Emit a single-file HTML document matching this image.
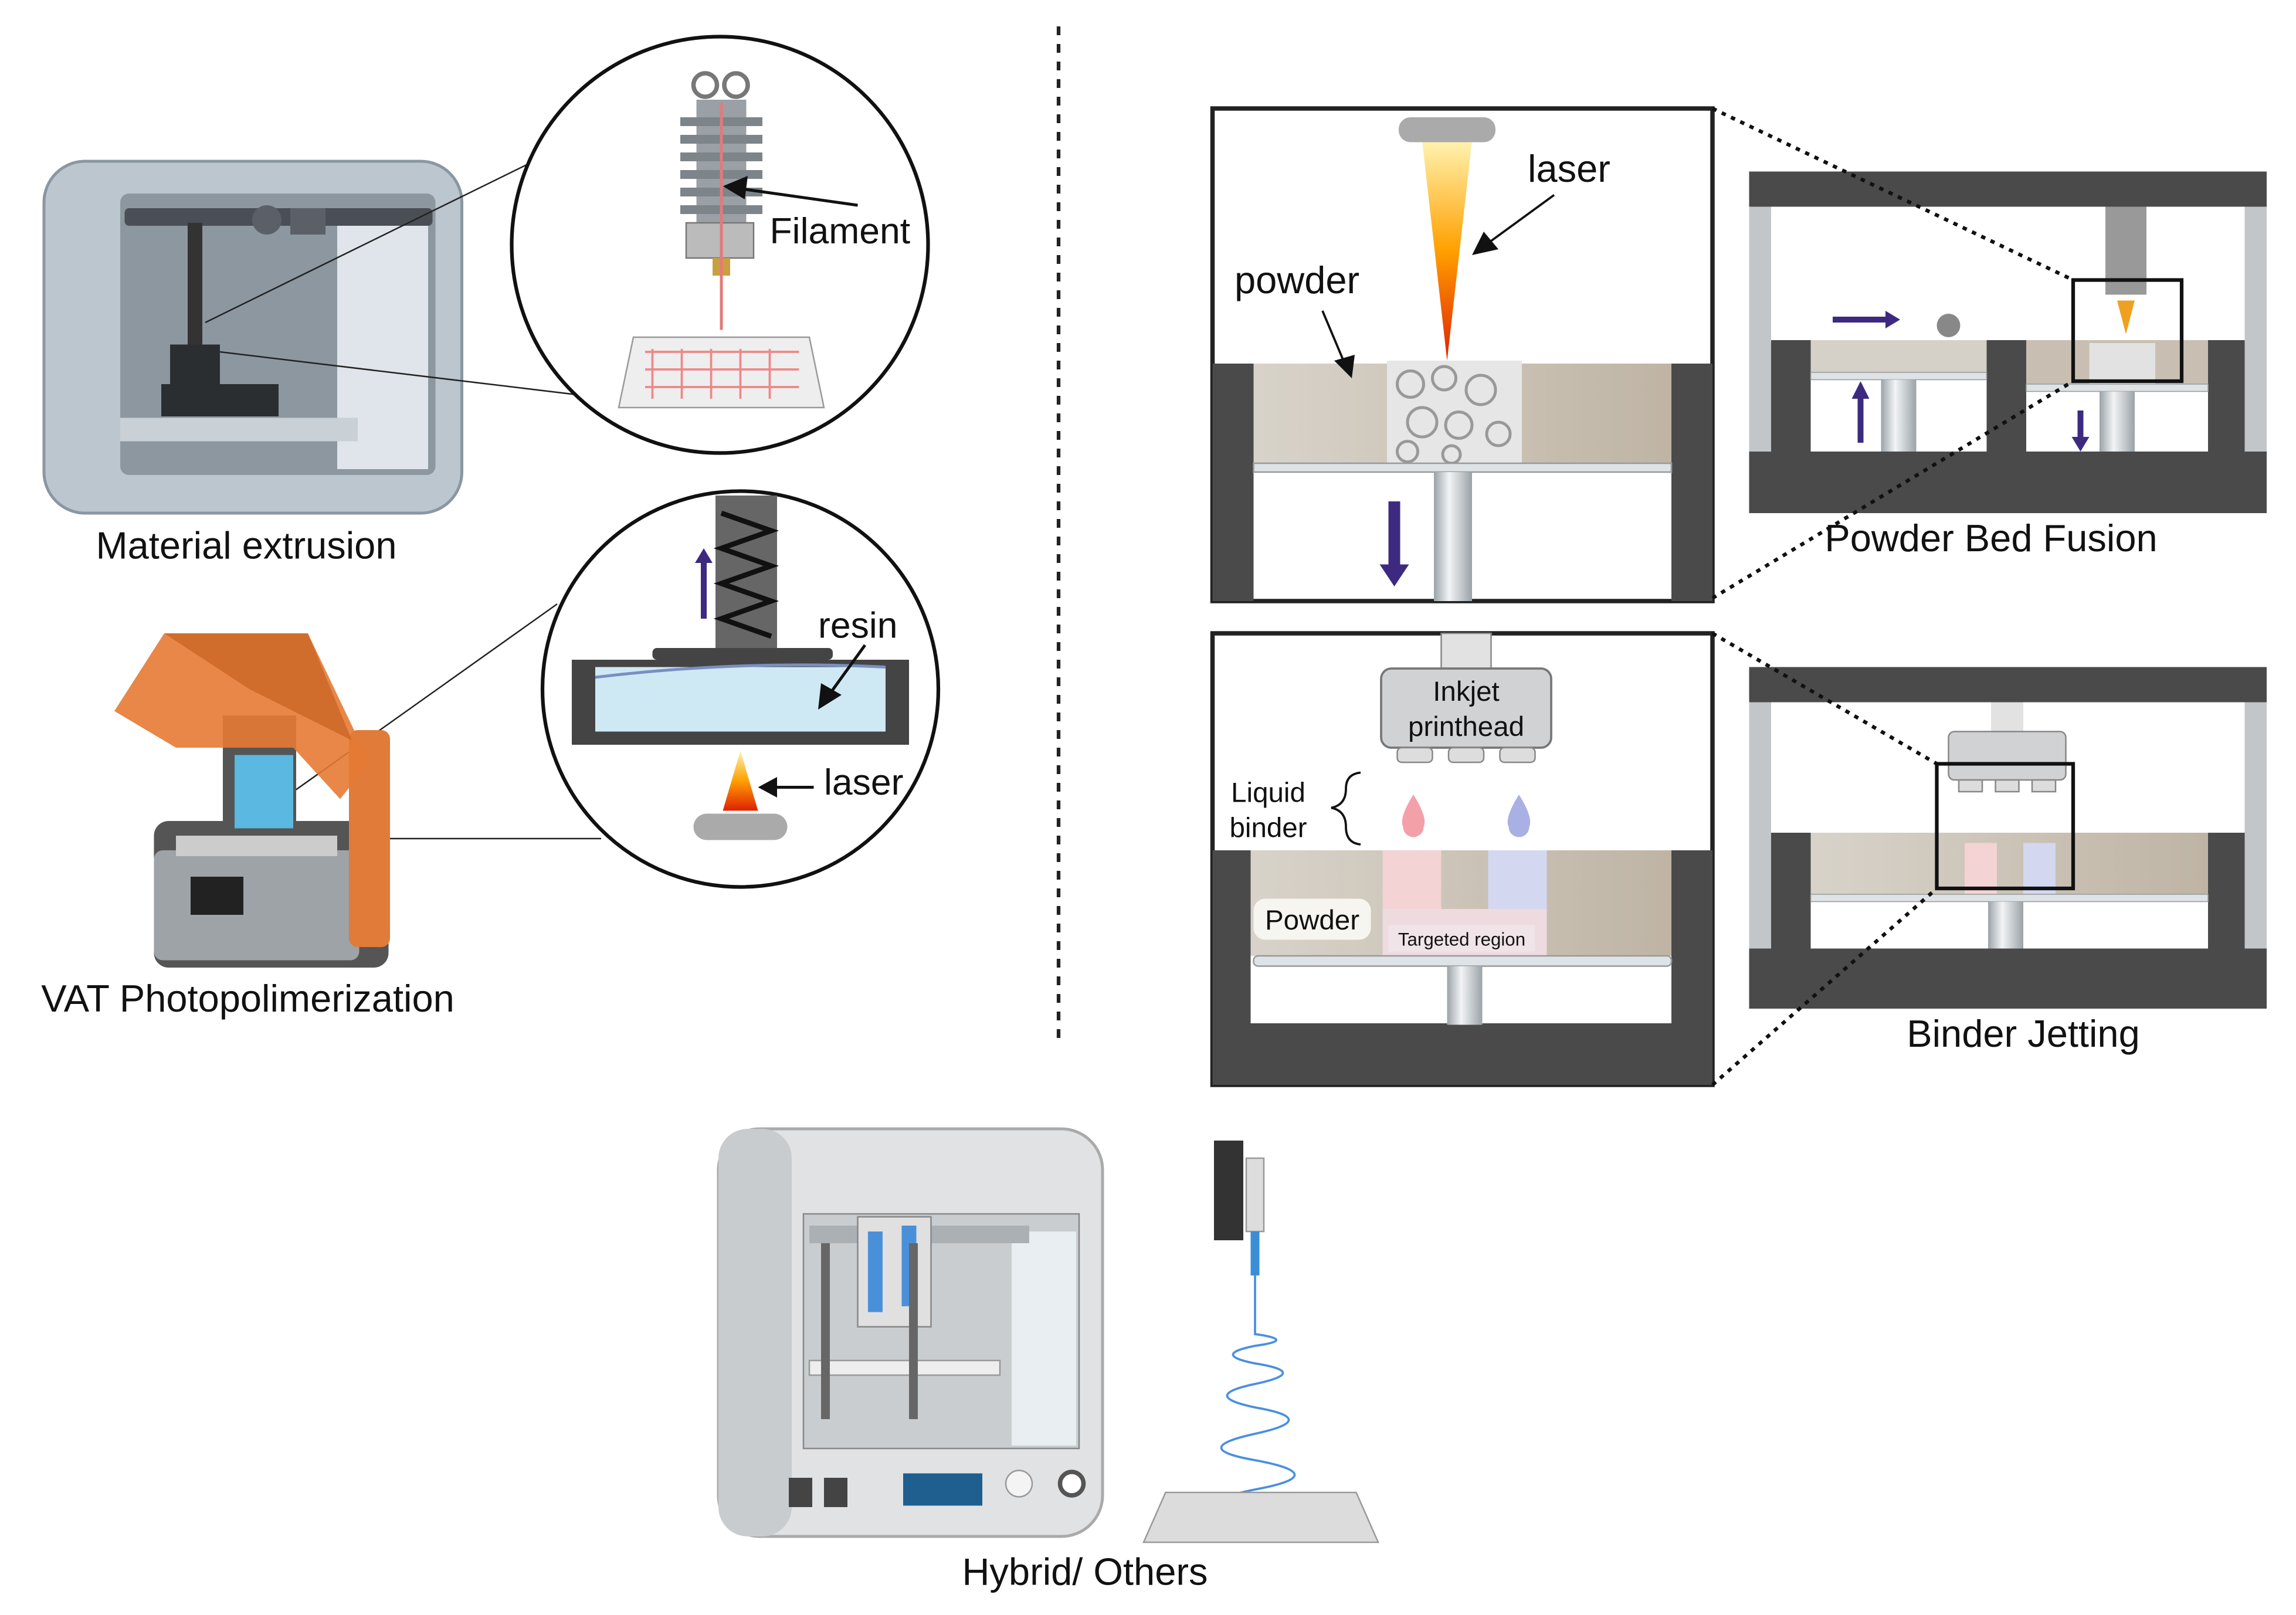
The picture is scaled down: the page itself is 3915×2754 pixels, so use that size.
<!DOCTYPE html>
<html><head><meta charset="utf-8"><style>
html,body{margin:0;padding:0;background:#fff;}
svg{display:block;}
text{font-family:"Liberation Sans",sans-serif;fill:#111;}
</style></head><body>
<svg width="3915" height="2754" viewBox="0 0 1566 1101.6" xmlns="http://www.w3.org/2000/svg">
<defs>
<linearGradient id="las" x1="0" y1="0" x2="0" y2="1"><stop offset="0" stop-color="#fff3b0"/><stop offset="0.5" stop-color="#ffa000"/><stop offset="1" stop-color="#e02000"/></linearGradient>
<linearGradient id="pil" x1="0" y1="0" x2="1" y2="0"><stop offset="0" stop-color="#9aa3a8"/><stop offset="0.4" stop-color="#f2f4f5"/><stop offset="1" stop-color="#9aa3a8"/></linearGradient>
<linearGradient id="pow" x1="0" y1="0" x2="1" y2="0"><stop offset="0" stop-color="#d8d3ca"/><stop offset="1" stop-color="#bfb4a4"/></linearGradient>
</defs>
<rect width="1566" height="1101.6" fill="#fff"/>
<line x1="722" y1="18" x2="722" y2="712" stroke="#222" stroke-width="2.5" stroke-dasharray="6,6"/>

<!-- Material extrusion printer -->
<rect x="30" y="110" width="285" height="240" rx="28" fill="#bcc6cf" stroke="#8a97a2" stroke-width="2"/>
<rect x="82" y="132" width="215" height="192" rx="6" fill="#8d979f"/>
<rect x="230" y="150" width="62" height="170" fill="#dfe5ea"/>
<rect x="85" y="142" width="210" height="12" rx="3" fill="#4a4f55"/>
<circle cx="182" cy="150" r="10" fill="#5a6066"/><rect x="198" y="142" width="24" height="18" fill="#5a6066"/>
<rect x="128" y="152" width="10" height="90" fill="#333"/>
<rect x="116" y="235" width="34" height="30" fill="#2b2e31"/>
<rect x="110" y="262" width="80" height="22" fill="#2b2e31"/>
<rect x="82" y="285" width="162" height="16" fill="#c9d0d6"/>
<text x="168" y="381" font-size="26" text-anchor="middle">Material extrusion</text>
<line x1="140" y1="220" x2="360" y2="112" stroke="#222" stroke-width="1"/>
<line x1="150" y1="240" x2="400" y2="270" stroke="#222" stroke-width="1"/>
<circle cx="491" cy="167" r="142" fill="#fff" stroke="#111" stroke-width="2.5"/>
<circle cx="481" cy="58" r="8" fill="none" stroke="#777" stroke-width="3"/><circle cx="502" cy="58" r="8" fill="none" stroke="#777" stroke-width="3"/>
<rect x="475" y="68" width="34" height="100" fill="#9aa0a6"/>
<g fill="#7d848a"><rect x="464" y="80" width="56" height="6"/><rect x="464" y="92" width="56" height="6"/><rect x="464" y="104" width="56" height="6"/><rect x="464" y="116" width="56" height="6"/><rect x="464" y="128" width="56" height="6"/><rect x="464" y="140" width="56" height="6"/></g>
<rect x="468" y="152" width="46" height="24" fill="#bbb" stroke="#777"/>
<rect x="486" y="176" width="12" height="12" fill="#c9a040"/>
<line x1="492" y1="70" x2="492" y2="225" stroke="#e37a7a" stroke-width="2"/>
<polygon points="432,230 552,230 562,278 422,278" fill="#eee" stroke="#999"/>
<path d="M440 240 H545 M440 252 H545 M440 264 H545 M445 238 V272 M465 238 V272 M485 238 V272 M505 238 V272 M525 238 V272" stroke="#e88" stroke-width="1.5" fill="none"/>
<line x1="585" y1="140" x2="500" y2="128" stroke="#111" stroke-width="2"/>
<polygon points="493,127 510,120 508,136" fill="#111"/>
<text x="525" y="166" font-size="25">Filament</text>

<!-- VAT -->
<line x1="200" y1="540" x2="380" y2="412" stroke="#222" stroke-width="1"/>
<line x1="240" y1="572" x2="410" y2="572" stroke="#222" stroke-width="1"/>
<rect x="105" y="560" width="160" height="100" rx="10" fill="#555"/>
<rect x="105" y="580" width="140" height="75" rx="6" fill="#9ea3a7"/>
<rect x="130" y="598" width="36" height="26" fill="#222"/>
<rect x="120" y="570" width="110" height="14" fill="#ccc"/>
<rect x="238" y="498" width="28" height="148" rx="6" fill="#e07b3a"/>
<rect x="152" y="488" width="50" height="82" fill="#555"/>
<rect x="160" y="515" width="40" height="50" fill="#5bb8e0"/>
<polygon points="78,485 112,432 210,432 252,520 232,545 200,510 120,510" fill="#e67a34" opacity="0.9"/>
<polygon points="112,432 210,432 240,505 170,470" fill="#c86424" opacity="0.75"/>
<text x="169" y="690" font-size="26" text-anchor="middle">VAT Photopolimerization</text>
<circle cx="505" cy="470" r="135" fill="#fff" stroke="#111" stroke-width="2.5"/>
<rect x="488" y="338" width="42" height="105" fill="#666"/>
<path d="M492 350 L526 362 L492 374 L526 386 L492 398 L526 410 L492 422 L526 434" stroke="#111" stroke-width="3.5" fill="none"/>
<rect x="445" y="442" width="123" height="8" rx="3" fill="#444"/>
<rect x="460" y="450" width="92" height="8" fill="#e08a8a"/>
<rect x="390" y="450" width="230" height="58" fill="#444"/>
<rect x="406" y="455" width="198" height="44" fill="#cfe9f4"/>
<path d="M406 462 Q505 450 604 455" stroke="#7a8fc0" stroke-width="2" fill="none"/>
<polygon points="478,380 482,380 482,422 478,422" fill="#3d2a80"/><polygon points="474,384 480,374 486,384" fill="#3d2a80"/>
<text x="558" y="435" font-size="25">resin</text>
<line x1="590" y1="440" x2="564" y2="476" stroke="#111" stroke-width="2"/><polygon points="558,484 560,466 574,474" fill="#111"/>
<polygon points="505,512 493,553 517,553" fill="url(#las)"/>
<rect x="473" y="555" width="64" height="18" rx="9" fill="#aaa"/>
<line x1="555" y1="537" x2="525" y2="537" stroke="#111" stroke-width="2"/><polygon points="517,537 530,530 530,544" fill="#111"/>
<text x="562" y="542" font-size="25">laser</text>

<!-- PBF big -->
<rect x="827" y="74" width="341" height="336" fill="#fff" stroke="#222" stroke-width="3"/>
<rect x="855" y="248" width="285" height="70" fill="url(#pow)"/>
<rect x="946" y="246" width="92" height="72" fill="#e6e6e6"/>
<g fill="none" stroke="#999" stroke-width="2"><circle cx="962" cy="262" r="9"/><circle cx="985" cy="258" r="8"/><circle cx="1010" cy="266" r="10"/><circle cx="970" cy="288" r="10"/><circle cx="995" cy="290" r="9"/><circle cx="1022" cy="296" r="8"/><circle cx="960" cy="308" r="7"/><circle cx="990" cy="310" r="6"/></g>
<rect x="827" y="248" width="28" height="162" fill="#4a4a4a"/>
<rect x="1140" y="248" width="28" height="162" fill="#4a4a4a"/>
<rect x="855" y="316" width="285" height="6" fill="#dde3e6" stroke="#999"/>
<rect x="978" y="322" width="26" height="88" fill="url(#pil)"/>
<polygon points="970,96 1004,96 987,246" fill="url(#las)"/>
<rect x="954" y="80" width="66" height="17" rx="8" fill="#aaa"/>
<rect x="947" y="342" width="8" height="45" fill="#3d2a80"/><polygon points="941,385 961,385 951,400" fill="#3d2a80"/>
<text x="1042" y="124" font-size="26">laser</text>
<line x1="1060" y1="133" x2="1012" y2="168" stroke="#111" stroke-width="1.5"/><polygon points="1004,174 1012,158 1022,170" fill="#111"/>
<text x="842" y="200" font-size="26">powder</text>
<line x1="902" y1="212" x2="918" y2="250" stroke="#111" stroke-width="1.5"/><polygon points="922,258 910,246 924,242" fill="#111"/>
<!-- PBF small -->
<rect x="1193" y="117" width="353" height="24" fill="#4a4a4a"/>
<rect x="1193" y="308" width="353" height="42" fill="#4a4a4a"/>
<rect x="1193" y="141" width="15" height="167" fill="#c3c6c8"/><rect x="1531" y="141" width="15" height="167" fill="#c3c6c8"/>
<rect x="1208" y="232" width="27" height="76" fill="#4a4a4a"/>
<rect x="1235" y="232" width="120" height="22" fill="#d6d1c8"/>
<rect x="1355" y="232" width="27" height="76" fill="#4a4a4a"/>
<rect x="1382" y="232" width="124" height="30" fill="#c8bfb2"/>
<rect x="1425" y="234" width="45" height="28" fill="#e2e2e2"/>
<rect x="1506" y="232" width="25" height="76" fill="#4a4a4a"/>
<rect x="1235" y="254" width="120" height="5" fill="#dde3e6" stroke="#999" stroke-width="0.6"/>
<rect x="1382" y="262" width="124" height="5" fill="#dde3e6" stroke="#999" stroke-width="0.6"/>
<rect x="1283" y="259" width="24" height="49" fill="url(#pil)"/>
<rect x="1432" y="267" width="24" height="41" fill="url(#pil)"/>
<circle cx="1329" cy="222" r="8" fill="#888"/>
<rect x="1436" y="141" width="28" height="60" fill="#999"/>
<polygon points="1444,205 1456,205 1450,228" fill="#f0a020"/>
<rect x="1250" y="216" width="38" height="4" fill="#3d2a80"/><polygon points="1286,212 1296,218 1286,224" fill="#3d2a80"/>
<rect x="1267" y="270" width="4" height="32" fill="#3d2a80"/><polygon points="1263,272 1275,272 1269,260" fill="#3d2a80"/>
<rect x="1417" y="280" width="4" height="20" fill="#3d2a80"/><polygon points="1413,298 1425,298 1419,308" fill="#3d2a80"/>
<rect x="1414" y="191" width="74" height="69" fill="none" stroke="#111" stroke-width="2.5"/>
<line x1="1168" y1="74" x2="1414" y2="191" stroke="#111" stroke-width="2.5" stroke-dasharray="3,4"/>
<line x1="1168" y1="408" x2="1414" y2="260" stroke="#111" stroke-width="2.5" stroke-dasharray="3,4"/>
<text x="1358" y="376" font-size="26" text-anchor="middle">Powder Bed Fusion</text>

<!-- Binder big -->
<rect x="827" y="432" width="341" height="308" fill="#fff" stroke="#222" stroke-width="3"/>
<rect x="853" y="580" width="287" height="72" fill="url(#pow)"/>
<rect x="943" y="580" width="40" height="72" fill="#f3d3d3"/>
<rect x="1015" y="580" width="40" height="72" fill="#d3d8f0"/>
<rect x="943" y="620" width="112" height="32" fill="#eddbe0"/>
<rect x="827" y="580" width="26" height="160" fill="#4a4a4a"/>
<rect x="1140" y="580" width="28" height="130" fill="#4a4a4a"/>
<rect x="827" y="698" width="341" height="42" fill="#4a4a4a"/>
<rect x="855" y="652" width="285" height="7" rx="3" fill="#dde3e6" stroke="#999"/>
<rect x="987" y="659" width="24" height="40" fill="url(#pil)"/>
<rect x="983" y="432" width="34" height="24" fill="#e2e2e2" stroke="#888"/>
<rect x="942" y="456" width="116" height="54" rx="7" fill="#d0d2d4" stroke="#777" stroke-width="1.5"/>
<rect x="953" y="510" width="24" height="10" rx="3" fill="#ddd" stroke="#888"/><rect x="988" y="510" width="24" height="10" rx="3" fill="#ddd" stroke="#888"/><rect x="1023" y="510" width="24" height="10" rx="3" fill="#ddd" stroke="#888"/>
<text x="1000" y="478" font-size="19" text-anchor="middle">Inkjet</text>
<text x="1000" y="502" font-size="19" text-anchor="middle">printhead</text>
<path d="M964 542 Q954 558 957 564 A7 7 0 0 0 971 564 Q974 558 964 542Z" fill="#f4a0a8"/>
<path d="M1036 542 Q1026 558 1029 564 A7 7 0 0 0 1043 564 Q1046 558 1036 542Z" fill="#a8b0e4"/>
<text x="865" y="547" font-size="19" text-anchor="middle">Liquid</text>
<text x="865" y="571" font-size="19" text-anchor="middle">binder</text>
<path d="M928 527 Q918 528 918 538 Q918 549 908 551 Q918 553 918 564 Q918 575 928 576" stroke="#111" stroke-width="1.5" fill="none"/>
<rect x="855" y="613" width="80" height="28" rx="8" fill="#f7f5f0"/>
<text x="895" y="634" font-size="19" text-anchor="middle">Powder</text>
<rect x="947" y="631" width="100" height="18" fill="#f0e6ea" opacity="0.8"/>
<text x="997" y="645" font-size="12.5" text-anchor="middle">Targeted region</text>
<!-- Binder small -->
<rect x="1193" y="455" width="353" height="24" fill="#4a4a4a"/>
<rect x="1193" y="647" width="353" height="41" fill="#4a4a4a"/>
<rect x="1193" y="479" width="15" height="168" fill="#c3c6c8"/><rect x="1531" y="479" width="15" height="168" fill="#c3c6c8"/>
<rect x="1235" y="568" width="271" height="42" fill="url(#pow)"/>
<rect x="1208" y="568" width="27" height="79" fill="#4a4a4a"/><rect x="1506" y="568" width="25" height="79" fill="#4a4a4a"/>
<rect x="1340" y="575" width="22" height="35" fill="#f3d3d3"/><rect x="1380" y="575" width="22" height="35" fill="#d3d8f0"/>
<rect x="1235" y="610" width="271" height="5" fill="#dde3e6" stroke="#999" stroke-width="0.6"/>
<rect x="1356" y="615" width="24" height="32" fill="url(#pil)"/>
<rect x="1358" y="479" width="22" height="20" fill="#e2e2e2"/>
<rect x="1329" y="499" width="80" height="33" rx="4" fill="#d0d2d4" stroke="#888"/>
<rect x="1336" y="532" width="16" height="8" fill="#ddd" stroke="#888"/><rect x="1361" y="532" width="16" height="8" fill="#ddd" stroke="#888"/><rect x="1386" y="532" width="16" height="8" fill="#ddd" stroke="#888"/>
<rect x="1321" y="521" width="93" height="85" fill="none" stroke="#111" stroke-width="2.5"/>
<line x1="1168" y1="432" x2="1321" y2="521" stroke="#111" stroke-width="2.5" stroke-dasharray="3,4"/>
<line x1="1168" y1="740" x2="1321" y2="606" stroke="#111" stroke-width="2.5" stroke-dasharray="3,4"/>
<text x="1380" y="714" font-size="26" text-anchor="middle">Binder Jetting</text>

<!-- Hybrid -->
<rect x="490" y="770" width="262" height="278" rx="28" fill="#e0e2e4" stroke="#aaa" stroke-width="2"/>
<rect x="490" y="770" width="50" height="278" rx="20" fill="#c9ccce"/>
<rect x="548" y="828" width="188" height="160" fill="#c9cdd0" stroke="#888"/>
<rect x="690" y="840" width="44" height="146" fill="#e8eef2"/>
<rect x="552" y="836" width="150" height="12" fill="#aab0b4"/>
<rect x="585" y="830" width="50" height="75" fill="#e0e0e0" stroke="#888"/>
<rect x="592" y="840" width="10" height="55" fill="#4a90d9"/><rect x="615" y="836" width="10" height="55" fill="#4a90d9"/>
<rect x="552" y="928" width="130" height="10" fill="#eee" stroke="#999"/>
<rect x="560" y="848" width="6" height="120" fill="#666"/><rect x="620" y="848" width="6" height="120" fill="#666"/>
<rect x="616" y="1005" width="54" height="22" fill="#1e5f8f"/>
<circle cx="695" cy="1012" r="9" fill="#f4f4f4" stroke="#999"/><circle cx="731" cy="1012" r="8" fill="#fff" stroke="#555" stroke-width="3"/>
<rect x="538" y="1008" width="16" height="20" fill="#444"/><rect x="562" y="1008" width="16" height="20" fill="#444"/>
<rect x="828" y="778" width="20" height="68" fill="#333"/>
<rect x="850" y="790" width="12" height="50" fill="#ddd" stroke="#999"/>
<rect x="853" y="840" width="6" height="30" fill="#3a8ed8"/>
<path d="M856 870 L856 910 Q885 914 856 918 Q826 924 856 930 Q894 936 856 944 Q818 952 856 960 Q902 968 856 978 Q810 988 856 996 Q910 1006 856 1016 Q805 1026 856 1034" stroke="#4a8fe0" stroke-width="1.5" fill="none"/>
<polygon points="795,1018 925,1018 940,1052 780,1052" fill="#dcdcdc" stroke="#999"/>
<text x="740" y="1081" font-size="26" text-anchor="middle">Hybrid/ Others</text>
</svg>
</body></html>
